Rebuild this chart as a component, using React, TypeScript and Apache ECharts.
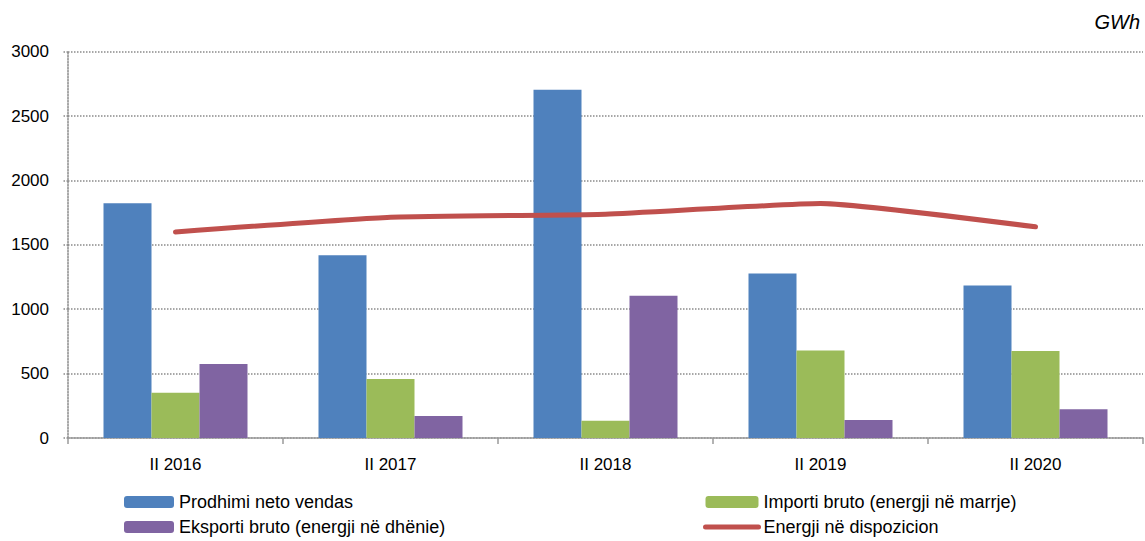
import React, { useEffect, useRef } from "react";
import * as echarts from "echarts";

const categories = ["II 2016", "II 2017", "II 2018", "II 2019", "II 2020"];
const prodhimi = [1823, 1420, 2705, 1278, 1185];
const importi = [351, 458, 134, 680, 675];
const eksporti = [574, 171, 1104, 140, 223];
const energji = [1600, 1715, 1738, 1821, 1640];
const seriesNames = [
  "Prodhimi neto vendas",
  "Importi bruto (energji në marrje)",
  "Eksporti bruto (energji në dhënie)",
  "Energji në dispozicion",
];

const FONT = "'Liberation Sans', Arial, sans-serif";

export default function App() {
  const ref = useRef<HTMLDivElement>(null);
  useEffect(() => {
    if (!ref.current) return;
    const chart = echarts.init(ref.current, null, { renderer: "svg" });
    const legendText = { fontFamily: FONT, fontSize: 18, color: "#000" };
    chart.setOption({
      animation: false,
      backgroundColor: "#fff",
      textStyle: { fontFamily: FONT },
      grid: { left: 68, right: 2, top: 51.7, bottom: 103, containLabel: false },
      legend: [
        {
          orient: "vertical",
          left: 124,
          top: 493,
          padding: 0,
          itemWidth: 50,
          itemHeight: 12,
          itemGap: 7,
          textStyle: legendText,
          data: [seriesNames[0], seriesNames[2]],
        },
        {
          orient: "vertical",
          left: 703,
          top: 493,
          padding: 0,
          itemWidth: 53,
          itemHeight: 12,
          itemGap: 7,
          textStyle: legendText,
          data: [
            seriesNames[1],
            {
              name: seriesNames[3],
              itemStyle: { opacity: 0 },
              lineStyle: { width: 5, cap: "round", color: "#C0504D" },
            },
          ],
        },
      ],
      graphic: [
        {
          type: "text",
          right: 5,
          top: 12,
          style: {
            text: "GWh",
            font: `italic 20px ${FONT}`,
            fill: "#000",
          },
        },
      ],
      xAxis: {
        type: "category",
        data: categories,
        boundaryGap: true,
        axisLine: { show: true, lineStyle: { color: "#9a9a9a", width: 1.5 } },
        axisTick: { show: true, length: 6, inside: false, lineStyle: { color: "#9a9a9a", width: 1.5 } },
        axisLabel: { fontFamily: FONT, fontSize: 17, color: "#000", margin: 18 },
        splitLine: { show: false },
      },
      yAxis: {
        type: "value",
        min: 0,
        max: 3000,
        interval: 500,
        axisLine: { show: true, lineStyle: { color: "#8a8a8a", type: "dotted", width: 1.5 } },
        axisTick: { show: true, length: 6, lineStyle: { color: "#8a8a8a", type: "dotted", width: 1.5 } },
        axisLabel: {
          fontFamily: FONT,
          fontSize: 17,
          color: "#000",
          margin: 19,
          formatter: (v: number) => String(v),
        },
        splitLine: { show: true, lineStyle: { color: "#8a8a8a", type: "dotted", width: 1.5 } },
      },
      series: [
        {
          name: seriesNames[0],
          type: "bar",
          data: prodhimi,
          barWidth: 48,
          barGap: "0%",
          itemStyle: { color: "#4F81BD" },
        },
        {
          name: seriesNames[1],
          type: "bar",
          data: importi,
          barWidth: 48,
          barGap: "0%",
          itemStyle: { color: "#9BBB59" },
        },
        {
          name: seriesNames[2],
          type: "bar",
          data: eksporti,
          barWidth: 48,
          barGap: "0%",
          itemStyle: { color: "#8064A2" },
        },
        {
          name: seriesNames[3],
          type: "line",
          data: energji,
          smooth: 0.15,
          symbol: "none",
          lineStyle: { color: "#C0504D", width: 5, cap: "round" },
          itemStyle: { color: "#C0504D" },
        },
      ],
    });
    return () => chart.dispose();
  }, []);
  return (
    <div
      ref={ref}
      style={{ position: "fixed", left: 0, top: 0, width: 1145, height: 541 }}
    />
  );
}
